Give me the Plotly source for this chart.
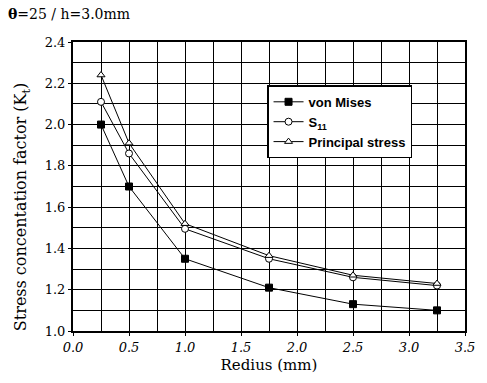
import plotly.graph_objects as go

radius = [0.25, 0.5, 1.0, 1.75, 2.5, 3.25]
von_mises = [2.00, 1.70, 1.35, 1.21, 1.13, 1.10]
s11 = [2.11, 1.86, 1.495, 1.35, 1.26, 1.22]
principal = [2.24, 1.91, 1.52, 1.365, 1.27, 1.23]

x_ticks = [0.0, 0.5, 1.0, 1.5, 2.0, 2.5, 3.0, 3.5]
y_ticks = [1.0, 1.2, 1.4, 1.6, 1.8, 2.0, 2.2, 2.4]

series = [
    ("von Mises", von_mises, "square", "black"),
    ("S<sub>11</sub>", s11, "circle", "white"),
    ("Principal stress", principal, "triangle-up", "white"),
]

W, H = 487, 383
ML, MR, MT, MB = 73, 12, 42, 50
PW, PH = W - ML - MR, H - MT - MB


def px_to_paper(px, py):
    return (px - ML) / PW, 1 - (py - MT) / PH


fig = go.Figure()
for name, vals, sym, fill in series:
    fig.add_trace(go.Scatter(
        x=radius, y=vals, name=name, mode="lines+markers",
        line=dict(color="black", width=1),
        marker=dict(symbol=sym, size=7, color=fill,
                    line=dict(color="black", width=1)),
    ))

tx, ty = px_to_paper(4, 14)
yx, yy = px_to_paper(21, 208)

fig.update_layout(
    width=W, height=H,
    margin=dict(l=ML, r=MR, t=MT, b=MB),
    plot_bgcolor="white", paper_bgcolor="white",
    font=dict(family="DejaVu Serif", color="black", size=13),
    showlegend=True,
    legend=dict(
        x=0.495, y=0.85, xanchor="left", yanchor="top",
        bgcolor="white", bordercolor="black", borderwidth=1.5,
        font=dict(family="Liberation Sans", size=13, color="black", weight="bold"),
        tracegroupgap=0, itemwidth=30,
    ),
    annotations=[
        dict(text="<b>θ</b>=25 / h=3.0mm", x=tx, y=ty, xref="paper", yref="paper",
             showarrow=False, xanchor="left", yanchor="middle",
             font=dict(family="DejaVu Serif", size=14)),
        dict(text="Stress concentation factor (K<sub>t</sub>)", x=yx, y=yy,
             xref="paper", yref="paper",
             showarrow=False, textangle=-90, xanchor="center", yanchor="middle",
             font=dict(family="DejaVu Serif", size=16)),
    ],
)

fig.update_xaxes(
    range=[0, 3.5], tickvals=x_ticks, ticktext=[f"{v:.1f}" for v in x_ticks],
    tickfont=dict(family="DejaVu Serif", size=13, style="italic"),
    showgrid=True, gridcolor="black", gridwidth=1,
    minor=dict(dtick=0.25, showgrid=True, gridcolor="black", gridwidth=1),
    showline=True, linecolor="black", linewidth=2, mirror=True,
    ticks="outside", ticklen=3, tickcolor="black",
    zeroline=False,
    title=dict(text="Redius (mm)", font=dict(family="DejaVu Serif", size=15), standoff=6),
)
fig.update_yaxes(
    range=[1.0, 2.4], tickvals=y_ticks, ticktext=[f"{v:.1f}" for v in y_ticks],
    tickfont=dict(family="DejaVu Serif", size=13),
    showgrid=True, gridcolor="black", gridwidth=1,
    minor=dict(dtick=0.1, showgrid=True, gridcolor="black", gridwidth=1),
    showline=True, linecolor="black", linewidth=2, mirror=True,
    ticks="outside", ticklen=3, tickcolor="black",
    zeroline=False,
)

fig.write_html("out.html")
